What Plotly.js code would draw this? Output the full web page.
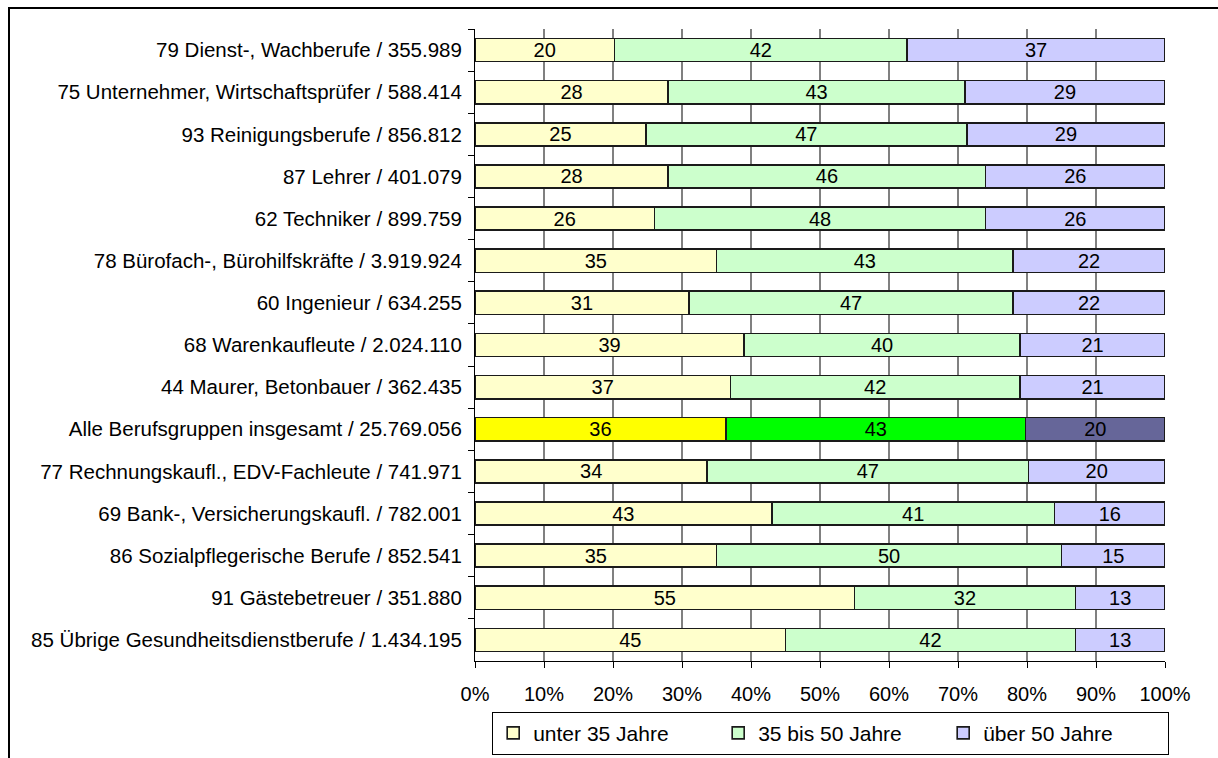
<!DOCTYPE html>
<html>
<head>
<meta charset="utf-8">
<script src="https://cdn.plot.ly/plotly-3.0.1.min.js"></script>
<style>
  html, body { margin: 0; padding: 0; background: #fff; }
  #chart { position: absolute; left: 0; top: 0; width: 1218px; height: 758px; }
  #frame { position: absolute; left: 8px; top: 7px; width: 1230px; height: 780px;
           border-top: 2px solid #000; border-left: 2px solid #000; pointer-events: none; }
</style>
</head>
<body>
<div id="chart"></div>
<div id="frame"></div>
<script>
const categories = [
  "79 Dienst-, Wachberufe / 355.989",
  "75 Unternehmer, Wirtschaftsprüfer / 588.414",
  "93 Reinigungsberufe / 856.812",
  "87 Lehrer / 401.079",
  "62 Techniker / 899.759",
  "78 Bürofach-, Bürohilfskräfte / 3.919.924",
  "60 Ingenieur / 634.255",
  "68 Warenkaufleute / 2.024.110",
  "44 Maurer, Betonbauer / 362.435",
  "Alle Berufsgruppen insgesamt / 25.769.056",
  "77 Rechnungskaufl., EDV-Fachleute / 741.971",
  "69 Bank-, Versicherungskaufl. / 782.001",
  "86 Sozialpflegerische Berufe / 852.541",
  "91 Gästebetreuer / 351.880",
  "85 Übrige Gesundheitsdienstberufe / 1.434.195"
];
const under35 = [20, 28, 25, 28, 26, 35, 31, 39, 37, 36, 34, 43, 35, 55, 45];
const from35to50 = [42, 43, 47, 46, 48, 43, 47, 40, 42, 43, 47, 41, 50, 32, 42];
const over50 = [37, 29, 29, 26, 26, 22, 22, 21, 21, 20, 20, 16, 15, 13, 13];
const seriesNames = ["unter 35 Jahre", "35 bis 50 Jahre", "über 50 Jahre"];
const xTickVals = [0, 10, 20, 30, 40, 50, 60, 70, 80, 90, 100];
const highlightCategory = "Alle Berufsgruppen insgesamt / 25.769.056";

const baseColors = ["#FFFFCC", "#CCFFCC", "#CCCCFF"];
const highlightColors = ["#FFFF00", "#00FF00", "#666699"];
const seriesValues = [under35, from35to50, over50];

const FONT = "Liberation Sans, Arial, sans-serif";

const traces = seriesValues.map((vals, i) => ({
  type: "bar",
  orientation: "h",
  name: seriesNames[i],
  y: categories,
  x: vals,
  text: vals.map(String),
  texttemplate: "%{text}",
  textposition: "inside",
  insidetextanchor: "middle",
  constraintext: "none",
  textfont: { family: FONT, size: 20, color: "#000" },
  marker: {
    color: categories.map(c => c === highlightCategory ? highlightColors[i] : baseColors[i]),
    line: { color: "#1a1a1a", width: 1.6 }
  },
  width: 0.55,
  hoverinfo: "skip"
}));

const layout = {
  width: 1218,
  height: 758,
  margin: { l: 475, r: 53, t: 29, b: 97, pad: 0 },
  paper_bgcolor: "#fff",
  plot_bgcolor: "#fff",
  barmode: "stack",
  barnorm: "percent",
  showlegend: true,
  font: { family: FONT, size: 20, color: "#000" },
  xaxis: {
    range: [0, 100],
    tickvals: xTickVals,
    ticktext: xTickVals.map(v => v + "%"),
    showgrid: true,
    gridcolor: "#808080",
    gridwidth: 1.3,
    zeroline: false,
    showline: true,
    linecolor: "#000",
    linewidth: 1,
    ticks: "outside",
    ticklen: 6,
    tickcolor: "#000",
    tickfont: { family: FONT, size: 20, color: "#000" },
    ticklabelstandoff: 9,
    automargin: false,
    fixedrange: true
  },
  yaxis: {
    type: "category",
    autorange: "reversed",
    showgrid: false,
    zeroline: false,
    showline: true,
    linecolor: "#000",
    linewidth: 1,
    ticks: "outside",
    tickson: "boundaries",
    ticklen: 6,
    tickcolor: "#000",
    tickfont: { family: FONT, size: 20.5, color: "#000" },
    ticklabelstandoff: 8,
    automargin: false,
    fixedrange: true
  },
  legend: {
    orientation: "h",
    xref: "container",
    yref: "container",
    x: 0.682,
    xanchor: "center",
    y: 0.061,
    yanchor: "top",
    bgcolor: "#fff",
    bordercolor: "#000",
    borderwidth: 1,
    font: { family: FONT, size: 21, color: "#000" },
    traceorder: "normal",
    entrywidth: 180,
    itemclick: false,
    itemdoubleclick: false
  }
};

Plotly.newPlot("chart", traces, layout, { displayModeBar: false, staticPlot: true });
</script>
</body>
</html>
